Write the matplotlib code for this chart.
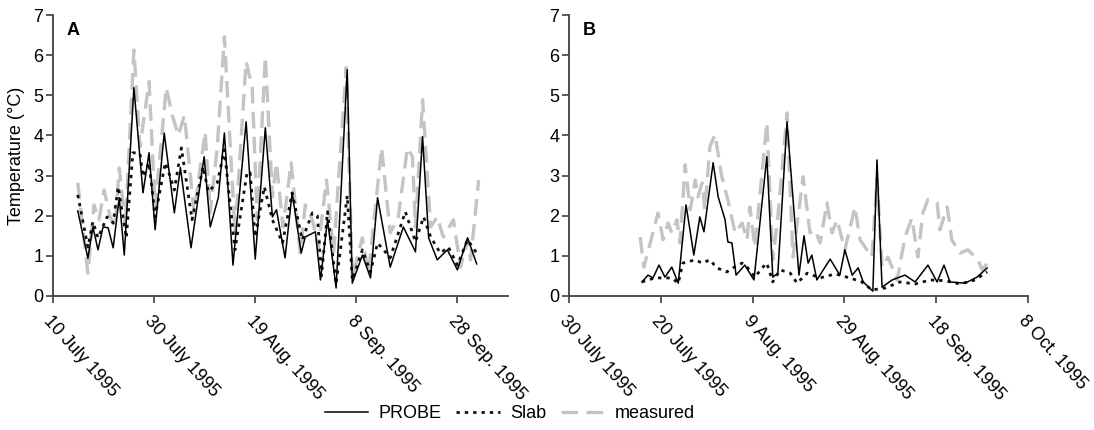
import datetime as dt
import numpy as np
import matplotlib
matplotlib.use("Agg")
import matplotlib.pyplot as plt
import matplotlib.dates as mdates

plt.rcParams["font.family"] = ["Liberation Sans", "DejaVu Sans"]

# --- panel A: days after 10 July 1995 ---
a_start = dt.datetime(1995, 7, 10)
a_tick_labels = ["10 July 1995", "30 July 1995", "19 Aug. 1995", "8 Sep. 1995", "28 Sep. 1995"]

probe_a_day = [4.9, 6.9, 7.9, 8.9, 9.9, 10.9, 11.9, 13.1, 14.1, 16.0, 17.8, 19.0, 20.2, 22.0,
               24.0, 25.2, 27.3, 29.9, 31.1, 32.7, 33.9, 35.6, 38.2, 40.0, 42.0, 43.4, 44.2,
               45.9, 47.3, 49.1, 49.9, 51.9, 52.9, 54.3, 56.0, 58.2, 59.2, 61.2, 62.8, 64.2,
               66.7, 69.3, 71.7, 73.1, 74.3, 76.0, 78.0, 80.0, 82.0, 83.8]
probe_a_temp = [2.12, 0.94, 1.72, 1.15, 1.72, 1.70, 1.20, 2.45, 1.02, 5.19, 2.57, 3.57, 1.65, 4.06,
                2.07, 3.20, 1.20, 3.47, 1.72, 2.45, 4.06, 0.77, 4.34, 0.92, 4.19, 1.97, 2.15,
                0.95, 2.57, 1.07, 1.47, 1.60, 0.40, 1.90, 0.20, 5.64, 0.32, 1.02, 0.45, 2.45,
                0.72, 1.72, 1.10, 3.97, 1.45, 0.90, 1.15, 0.65, 1.45, 0.80]

slab_a_day = [4.9, 6.9, 7.9, 8.9, 10.7, 11.9, 12.9, 14.5, 15.8, 17.2, 17.8, 19.0, 20.2, 22.2,
              23.2, 24.0, 25.4, 27.5, 29.7, 30.7, 32.5, 33.9, 36.0, 38.4, 39.0, 40.0, 41.8,
              43.4, 45.4, 47.3, 49.3, 51.3, 52.3, 53.1, 54.3, 56.0, 58.2, 59.2, 61.2, 62.8,
              64.2, 65.4, 66.7, 69.7, 71.7, 73.3, 74.7, 76.6, 78.2, 80.0, 82.0, 83.8]
slab_a_temp = [2.52, 1.22, 1.85, 1.45, 1.97, 1.82, 2.72, 1.45, 3.57, 3.55, 2.97, 3.32, 1.97, 3.32,
               2.97, 2.64, 3.69, 1.90, 3.22, 2.60, 2.82, 3.64, 1.15, 3.09, 3.07, 1.47, 2.72,
               1.90, 1.32, 2.57, 1.40, 2.07, 2.00, 0.50, 2.10, 0.30, 2.50, 0.40, 1.15, 0.60,
               1.32, 1.15, 0.95, 2.10, 1.35, 1.97, 1.47, 1.07, 1.22, 0.77, 1.40, 1.07]

meas_a_day = [4.9, 6.9, 8.1, 9.1, 10.1, 11.3, 12.3, 13.1, 14.3, 16.0, 17.2, 19.0, 20.2, 22.4,
              23.6, 24.8, 26.0, 27.9, 30.1, 31.1, 32.5, 33.9, 36.0, 38.2, 39.4, 40.4, 42.0,
              43.4, 44.2, 45.5, 47.1, 48.9, 49.9, 51.3, 52.5, 54.1, 55.5, 58.0, 59.2, 61.2,
              62.4, 65.0, 66.7, 68.3, 70.1, 71.1, 71.7, 73.1, 74.7, 76.0, 77.2, 79.2, 80.6,
              82.0, 82.6, 84.2]
meas_a_temp = [2.82, 0.57, 2.27, 1.90, 2.64, 1.97, 1.72, 3.19, 1.72, 6.13, 3.72, 5.34, 2.22, 5.19,
               4.50, 4.00, 4.50, 2.07, 4.09, 2.07, 3.72, 6.46, 1.57, 5.84, 5.20, 1.90, 5.96,
               2.47, 3.32, 1.72, 3.32, 1.07, 2.27, 1.90, 1.22, 2.89, 1.07, 5.69, 0.47, 1.45,
               0.57, 3.69, 1.57, 1.97, 3.69, 3.47, 1.72, 4.89, 1.72, 1.97, 1.47, 1.90, 0.72,
               1.40, 0.90, 2.89]

# --- panel B: days after 30 June 1995 ---
b_start = dt.datetime(1995, 6, 30)
b_tick_labels = ["30 July 1995", "20 July 1995", "9 Aug. 1995", "29 Aug. 1995",
                 "18 Sep. 1995", "8 Oct. 1995"]

probe_b_day = [15.9, 17.2, 18.3, 19.6, 20.9, 22.4, 23.8, 25.5, 27.2, 28.5, 29.4, 31.4, 32.5,
               34.0, 34.6, 35.5, 36.4, 38.3, 40.3, 43.1, 44.4, 45.5, 47.5, 50.1, 51.2, 52.1,
               52.9, 54.0, 56.9, 59.0, 60.1, 61.7, 63.0, 64.1, 66.2, 67.1, 68.2, 70.4, 73.2,
               75.4, 78.2, 80.2, 81.7, 83.0, 86.3, 88.9, 91.1]
probe_b_temp = [0.35, 0.52, 0.45, 0.77, 0.47, 0.72, 0.32, 2.27, 1.02, 1.97, 1.60, 3.32, 2.47,
                1.90, 1.35, 1.32, 0.52, 0.77, 0.40, 3.47, 0.47, 0.57, 4.34, 0.52, 1.50, 0.82,
                1.02, 0.40, 0.92, 0.52, 1.15, 0.52, 0.70, 0.35, 0.12, 3.39, 0.22, 0.40, 0.52,
                0.35, 0.77, 0.35, 0.77, 0.35, 0.32, 0.47, 0.70]

slab_b_day = [15.9, 18.7, 22.4, 23.8, 24.8, 27.5, 29.0, 30.7, 32.2, 34.4, 35.7, 37.7, 38.8,
              40.5, 42.1, 43.1, 44.4, 46.0, 48.2, 49.7, 51.9, 54.7, 58.0, 61.2, 63.8, 66.0,
              68.9, 72.1, 75.4, 78.7, 81.9, 85.2, 88.5, 91.1]
slab_b_temp = [0.35, 0.45, 0.45, 0.32, 0.82, 0.90, 0.82, 0.90, 0.70, 0.60, 0.70, 0.82, 0.72,
               0.47, 0.70, 0.82, 0.35, 0.65, 0.57, 0.32, 0.57, 0.45, 0.55, 0.45, 0.35, 0.15,
               0.20, 0.35, 0.30, 0.40, 0.38, 0.30, 0.40, 0.60]

meas_b_day = [15.5, 16.3, 17.7, 19.4, 20.5, 21.6, 22.4, 23.5, 24.2, 25.3, 26.4, 27.5, 28.1,
              29.0, 29.6, 30.7, 31.8, 33.3, 34.6, 36.2, 37.7, 38.8, 39.4, 40.5, 43.1, 44.4,
              45.5, 47.5, 48.8, 51.0, 52.5, 53.6, 54.7, 56.2, 57.3, 58.4, 60.1, 62.3, 63.4,
              64.9, 66.0, 67.1, 68.2, 69.5, 71.5, 73.2, 74.7, 76.0, 77.1, 78.2, 80.2, 80.8,
              82.4, 83.4, 85.2, 86.9, 89.1, 90.0, 91.1]
meas_b_temp = [1.47, 0.72, 1.32, 2.07, 1.40, 1.82, 1.57, 1.90, 1.32, 3.27, 2.15, 2.89, 2.47,
               2.82, 2.15, 3.72, 4.02, 2.97, 2.40, 1.57, 1.82, 1.40, 2.22, 1.22, 4.32, 0.90,
               1.97, 4.56, 0.97, 2.97, 1.57, 1.65, 1.32, 2.32, 1.57, 1.90, 1.15, 2.22, 1.40,
               1.15, 0.97, 2.94, 0.72, 0.97, 0.40, 1.47, 1.94, 0.97, 2.07, 2.40, 2.32, 1.65,
               2.22, 1.40, 1.07, 1.15, 0.90, 0.65, 0.82]

axis_col = "#404040"
grey = "#c4c4c4"
fs = 13

fig = plt.figure(figsize=(10.94, 4.30), dpi=100)
ax_a = fig.add_axes([53/1094, 134/430, 455/1094, 281/430])
ax_b = fig.add_axes([569/1094, 134/430, 459/1094, 281/430])


def draw_panel(ax, start, span, labels, series, letter):
    t0 = mdates.date2num(start)
    for day, temp, kw in series:
        ax.plot(t0 + np.array(day), temp, **kw)
    ax.set_xlim(t0, t0 + span)
    ax.set_ylim(0, 7)
    ax.set_yticks(range(8))
    ax.set_xticks([t0 + 20 * i for i in range(len(labels))])
    ax.set_xticklabels(labels, rotation=-48, ha="left", va="top",
                       rotation_mode="anchor", fontsize=fs)
    for s in ("top", "right"):
        ax.spines[s].set_visible(False)
    for s in ("left", "bottom"):
        ax.spines[s].set_color(axis_col)
        ax.spines[s].set_linewidth(1.3)
    ax.tick_params(colors=axis_col, labelcolor="black", labelsize=fs, length=5, width=1.2)
    ax.tick_params(axis="y", pad=2)
    ax.tick_params(axis="x", pad=7)
    ax.text(0.03, 0.975, letter, transform=ax.transAxes, fontsize=fs,
            fontweight="bold", va="top", ha="left")


style_probe = dict(color="black", lw=1.1, label="PROBE")
style_slab = dict(color="#111111", lw=2.0, ls=(0, (1.2, 1.8)), label="Slab")
style_meas = dict(color=grey, lw=2.4, ls=(0, (5, 2.5)), label="measured")

draw_panel(ax_a, a_start, 90, a_tick_labels,
           [(meas_a_day, meas_a_temp, style_meas),
            (slab_a_day, slab_a_temp, style_slab),
            (probe_a_day, probe_a_temp, style_probe)], "A")
draw_panel(ax_b, b_start, 100, b_tick_labels,
           [(meas_b_day, meas_b_temp, style_meas),
            (slab_b_day, slab_b_temp, style_slab),
            (probe_b_day, probe_b_temp, style_probe)], "B")

ax_a.set_ylabel("Temperature (°C)", fontsize=fs, labelpad=6)

h, l = ax_a.get_legend_handles_labels()
order = [2, 1, 0]
fig.legend([h[i] for i in order], [l[i] for i in order], loc="center",
           bbox_to_anchor=(510/1094, 1 - 414/430), ncol=3, frameon=False,
           fontsize=fs, handlelength=2.4, columnspacing=0.8, handletextpad=0.6)

fig.savefig("out.png", dpi=100)
